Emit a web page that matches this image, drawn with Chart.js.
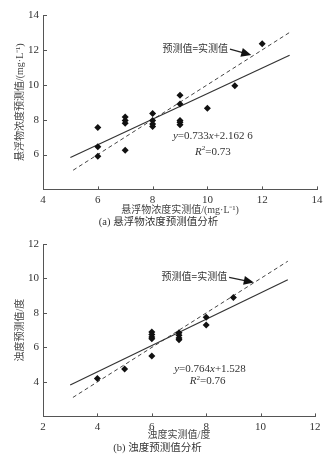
<!DOCTYPE html>
<html>
<head>
<meta charset="utf-8">
<script src="https://cdn.jsdelivr.net/npm/chart.js@4"></script>
<style>
  body { margin: 0; background: #fff; }
  canvas { display: block; }
</style>
</head>
<body>
<canvas id="chartA" width="333" height="232"></canvas>
<canvas id="chartB" width="333" height="232"></canvas>
<script>
// (a) suspended solids: measured vs predicted
const measuredA = [6, 6, 6, 7, 7, 7, 7, 8, 8, 8, 8, 9, 9, 9, 9, 9, 10, 11, 12];
const predictedA = [7.55, 6.45, 5.9, 8.15, 7.95, 7.8, 6.25, 8.35, 7.95, 7.75, 7.6, 9.4, 8.9, 7.95, 7.85, 7.7, 8.65, 9.95, 12.35];
const fitXA = [5, 13];
const fitYA = [5.83, 11.69];
const idXA = [5.1, 13];
const ticksA = [4, 6, 8, 10, 12, 14];

// (b) turbidity: measured vs predicted
const measuredB = [4, 5, 6, 6, 6, 6, 6, 7, 7, 7, 7, 8, 8, 9];
const predictedB = [4.2, 4.75, 6.9, 6.75, 6.6, 6.5, 5.5, 6.85, 6.7, 6.55, 6.45, 7.75, 7.3, 8.9];
const fitXB = [3, 11];
const fitYB = [3.82, 9.93];
const idXB = [3.1, 11];
const ticksB = [2, 4, 6, 8, 10, 12];

Chart.defaults.font.family = "'Liberation Serif', serif";
Chart.defaults.color = '#333';

// latin bits in serif, chinese falls back to Noto CJK
const mixed = "'Liberation Serif', 'Noto Sans CJK SC', serif";
const cjk = "'Noto Sans CJK SC', sans-serif";

function drawParts(ctx, parts, cx, cy, size) {
  let w = 0;
  parts.forEach(p => {
    ctx.font = (p.i ? 'italic ' : '') + (p.sup ? size * 0.65 : size) + "px 'Liberation Serif'";
    p.w = ctx.measureText(p.t).width;
    w += p.w;
  });
  let px = cx - w / 2;
  parts.forEach(p => {
    ctx.font = (p.i ? 'italic ' : '') + (p.sup ? size * 0.65 : size) + "px 'Liberation Serif'";
    ctx.fillText(p.t, px, p.sup ? cy - size * 0.35 : cy);
    px += p.w;
  });
}

const extras = {
  id: 'extras',
  afterDraw(chart, args, opts) {
    const { ctx, chartArea, scales: { x, y } } = chart;
    ctx.save();
    // short inward ticks
    ctx.strokeStyle = '#555';
    ctx.lineWidth = 1;
    x.ticks.forEach(t => {
      const px = Math.round(x.getPixelForValue(t.value)) + 0.5;
      ctx.beginPath();
      ctx.moveTo(px, chartArea.bottom);
      ctx.lineTo(px, chartArea.bottom - 3);
      ctx.stroke();
    });
    y.ticks.forEach(t => {
      const py = Math.round(y.getPixelForValue(t.value)) + 0.5;
      ctx.beginPath();
      ctx.moveTo(chartArea.left, py);
      ctx.lineTo(chartArea.left + 4, py);
      ctx.stroke();
    });

    // label with arrow onto the y = x line
    const lx = x.getPixelForValue(opts.label.x);
    const ly = y.getPixelForValue(opts.label.y);
    ctx.fillStyle = '#333';
    ctx.font = '10px ' + cjk;
    ctx.textAlign = 'right';
    ctx.textBaseline = 'middle';
    ctx.fillText('预测值=实测值', lx, ly);
    const tx = x.getPixelForValue(opts.tip.x);
    const ty = y.getPixelForValue(opts.tip.y);
    const sx = lx + 2, sy = ly + 1;
    const ang = Math.atan2(ty - sy, tx - sx);
    ctx.strokeStyle = '#222';
    ctx.lineWidth = 1.2;
    ctx.beginPath();
    ctx.moveTo(sx, sy);
    ctx.lineTo(tx - 8 * Math.cos(ang), ty - 8 * Math.sin(ang));
    ctx.stroke();
    ctx.fillStyle = '#111';
    ctx.beginPath();
    ctx.moveTo(tx, ty);
    ctx.lineTo(tx - 10 * Math.cos(ang) + 4.5 * Math.sin(ang), ty - 10 * Math.sin(ang) - 4.5 * Math.cos(ang));
    ctx.lineTo(tx - 10 * Math.cos(ang) - 4.5 * Math.sin(ang), ty - 10 * Math.sin(ang) + 4.5 * Math.cos(ang));
    ctx.closePath();
    ctx.fill();

    // regression equation
    ctx.fillStyle = '#333';
    ctx.textAlign = 'left';
    ctx.textBaseline = 'middle';
    drawParts(ctx, opts.eq, x.getPixelForValue(opts.eqPos.x), y.getPixelForValue(opts.eqPos.y), 11);
    drawParts(ctx, opts.r2, x.getPixelForValue(opts.r2Pos.x), y.getPixelForValue(opts.r2Pos.y), 11);
    ctx.restore();
  }
};

function makeChart(id, s) {
  new Chart(document.getElementById(id), {
    type: 'scatter',
    data: {
      datasets: [
        {
          data: s.mx.map((v, i) => ({ x: v, y: s.py[i] })),
          pointStyle: 'rectRot',
          radius: 3.5,
          backgroundColor: '#111',
          borderColor: '#111',
          borderWidth: 0
        },
        {
          type: 'line',
          data: s.fx.map((v, i) => ({ x: v, y: s.fy[i] })),
          borderColor: '#333',
          borderWidth: 1.2,
          pointRadius: 0,
          fill: false
        },
        {
          type: 'line',
          data: s.ix.map(v => ({ x: v, y: v })),
          borderColor: '#444',
          borderWidth: 1,
          borderDash: [4, 3],
          pointRadius: 0,
          fill: false
        }
      ]
    },
    options: {
      responsive: false,
      animation: false,
      layout: { padding: s.pad },
      scales: {
        x: {
          type: 'linear',
          min: s.ticks[0],
          max: s.ticks[s.ticks.length - 1],
          afterBuildTicks: sc => { sc.ticks = s.ticks.map(v => ({ value: v })); },
          grid: { display: false, drawTicks: false },
          border: { display: true, color: '#555', width: 1 },
          ticks: { padding: 4, color: '#333', font: { size: 11 } },
          title: { display: true, text: s.xTitle, color: '#444', font: { family: mixed, size: 10 }, padding: { top: 0, bottom: s.xTitlePad } },
          afterFit: sc => { sc.height = s.xHeight; }
        },
        y: {
          type: 'linear',
          min: s.ticks[0],
          max: s.ticks[s.ticks.length - 1],
          afterBuildTicks: sc => { sc.ticks = s.ticks.map(v => ({ value: v })); },
          grid: { display: false, drawTicks: false },
          border: { display: true, color: '#555', width: 1 },
          ticks: { padding: 4, color: '#333', font: { size: 11 }, callback: v => (v === s.ticks[0] ? '' : v) },
          title: { display: true, text: s.yTitle, color: '#444', font: { family: mixed, size: 10 }, padding: { top: 14, bottom: 0 } },
          afterFit: sc => { sc.width = s.yWidth; }
        }
      },
      plugins: {
        legend: { display: false },
        tooltip: { enabled: false },
        title: {
          display: true,
          position: 'bottom',
          text: s.caption,
          color: '#333',
          font: { family: mixed, size: 10.5, weight: 'normal' },
          padding: { top: 0, bottom: s.capPad }
        },
        extras: s.notes
      }
    },
    plugins: [extras]
  });
}

makeChart('chartA', {
  mx: measuredA, py: predictedA, fx: fitXA, fy: fitYA, ix: idXA, ticks: ticksA,
  pad: { top: 15, right: 16, left: 0, bottom: 0 },
  xHeight: 27, yWidth: 43, xTitlePad: 0, capPad: 3,
  xTitle: '悬浮物浓度实测值/(mg·L⁻¹)',
  yTitle: '悬浮物浓度预测值/(mg·L⁻¹)',
  caption: '(a) 悬浮物浓度预测值分析',
  notes: {
    label: { x: 10.75, y: 12.1 },
    tip: { x: 11.6, y: 11.7 },
    eq: [{ t: 'y', i: true }, { t: '=0.733' }, { t: 'x', i: true }, { t: '+2.162 6' }],
    eqPos: { x: 10.2, y: 7.05 },
    r2: [{ t: 'R', i: true }, { t: '2', sup: true }, { t: '=0.73' }],
    r2Pos: { x: 10.2, y: 6.15 }
  }
});

makeChart('chartB', {
  mx: measuredB, py: predictedB, fx: fitXB, fy: fitYB, ix: idXB, ticks: ticksB,
  pad: { top: 12, right: 18, left: 0, bottom: 0 },
  xHeight: 26, yWidth: 43, xTitlePad: 1, capPad: 9,
  xTitle: '浊度实测值/度',
  yTitle: '浊度预测值/度',
  caption: '(b) 浊度预测值分析',
  notes: {
    label: { x: 8.77, y: 10.12 },
    tip: { x: 9.75, y: 9.77 },
    eq: [{ t: 'y', i: true }, { t: '=0.764' }, { t: 'x', i: true }, { t: '+1.528' }],
    eqPos: { x: 8.14, y: 4.73 },
    r2: [{ t: 'R', i: true }, { t: '2', sup: true }, { t: '=0.76' }],
    r2Pos: { x: 8.05, y: 4.02 }
  }
});
</script>
</body>
</html>
